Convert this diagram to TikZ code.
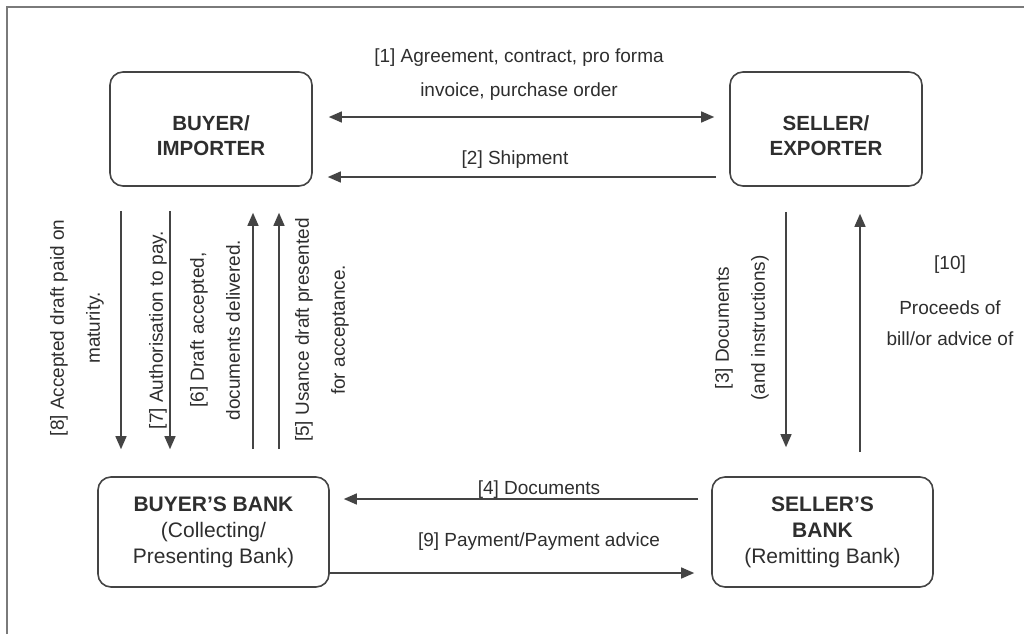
\documentclass[tikz,border=0pt]{standalone}
\usepackage{fontspec}
\setmainfont{Liberation Sans}
\usetikzlibrary{arrows.meta}
\definecolor{ink}{HTML}{2E2E2E}
\definecolor{rule}{HTML}{444444}
\definecolor{frame}{HTML}{7A7A7A}
\tikzset{
  party/.style={draw=rule, line width=1.6pt, rounded corners=13pt, align=center,
    text=ink, inner sep=0pt},
  lbl/.style={text=ink, align=center, inner sep=0pt,
    font=\fontsize{19}{34}\selectfont},
  vlbl/.style={lbl, rotate=90, font=\fontsize{19}{36}\selectfont},
  flow/.style={draw=rule, line width=1.4pt, -{Triangle[length=13pt,width=11pt]}},
  both/.style={draw=rule, line width=1.4pt, {Triangle[length=13pt,width=11pt]}-{Triangle[length=13pt,width=11pt]}},
}
\begin{document}
\begin{tikzpicture}[x=1pt,y=-1pt]
\useasboundingbox (0,0) rectangle (1024,634);
% frame along the top and left edges
\draw[frame, line width=2pt] (7,634) -- (7,7) -- (1024,7);

% parties
\node[party, minimum width=202pt, minimum height=114pt,
      font=\fontsize{20.5}{24.5}\selectfont\bfseries] (buyer) at (211,129)
      {\raisebox{-7pt}[\height][\depth]{\shortstack{BUYER/\\[7pt]IMPORTER}}};
\node[party, minimum width=192pt, minimum height=114pt,
      font=\fontsize{20.5}{24.5}\selectfont\bfseries] (seller) at (826,129)
      {\raisebox{-7pt}[\height][\depth]{\shortstack{SELLER/\\[7pt]EXPORTER}}};
\node[party, minimum width=231pt, minimum height=110pt,
      font=\fontsize{21}{26}\selectfont] (bbank) at (213.5,532)
      {\textbf{BUYER'S BANK}\\(Collecting/\\Presenting Bank)};
\node[party, minimum width=221pt, minimum height=110pt,
      font=\fontsize{21}{26}\selectfont] (sbank) at (822.5,532)
      {\textbf{SELLER'S}\\\textbf{BANK}\\(Remitting Bank)};

% trade between buyer and seller
\draw[both, shorten <=16pt, shorten >=15pt]
  ([yshift=12pt]buyer.east) -- ([yshift=12pt]seller.west);
\node[lbl] (l1) at (519,75) {[1] Agreement, contract, pro forma\\invoice, purchase order};
\draw[flow, shorten <=13pt, shorten >=15pt]
  ([yshift=-48pt]seller.west) -- ([yshift=-48pt]buyer.east);
\node[lbl] (l2) at (515,160) {[2] Shipment};

% buyer side
\draw[flow, shorten <=24pt, shorten >=27pt]
  ([xshift=-90pt]buyer.south) -- ([xshift=-92.5pt]bbank.north);
\draw[flow, shorten <=24pt, shorten >=27pt]
  ([xshift=-41pt]buyer.south) -- ([xshift=-43.5pt]bbank.north);
\draw[flow, shorten <=27pt, shorten >=26pt]
  ([xshift=39.5pt]bbank.north) -- ([xshift=42pt]buyer.south);
\draw[flow, shorten <=27pt, shorten >=26pt]
  ([xshift=65.5pt]bbank.north) -- ([xshift=68pt]buyer.south);
\node[vlbl] (l8) at (77,328) {[8] Accepted draft paid on\\maturity.};
\node[vlbl] (l7) at (158,330) {[7] Authorisation to pay.};
\node[vlbl] (l6) at (215,330) {[6] Draft accepted,\\documents delivered.};
\node[vlbl] (l5) at (322,330) {[5] Usance draft presented\\for acceptance.};

% seller side
\draw[flow, shorten <=25pt, shorten >=29pt]
  ([xshift=-40pt]seller.south) -- ([xshift=-36.5pt]sbank.north);
\draw[flow, shorten <=24pt, shorten >=27pt]
  ([xshift=37.5pt]sbank.north) -- ([xshift=34pt]seller.south);
\node[vlbl] (l3) at (742,328) {[3] Documents\\(and instructions)};
\node[lbl] (l10) at (950,301) {[10]\\[11pt]Proceeds of\\[-3pt]bill/or advice of};

% between the banks
\draw[flow, shorten <=13pt, shorten >=14pt]
  ([yshift=33pt]sbank.west) -- ([yshift=33pt]bbank.east);
\node[lbl] (l4) at (539,490) {[4] Documents};
\draw[flow, shorten >=17pt]
  ([yshift=-41pt]bbank.east) -- ([yshift=-41pt]sbank.west);
\node[lbl] (l9) at (539,542) {[9] Payment/Payment advice};
\end{tikzpicture}
\end{document}
